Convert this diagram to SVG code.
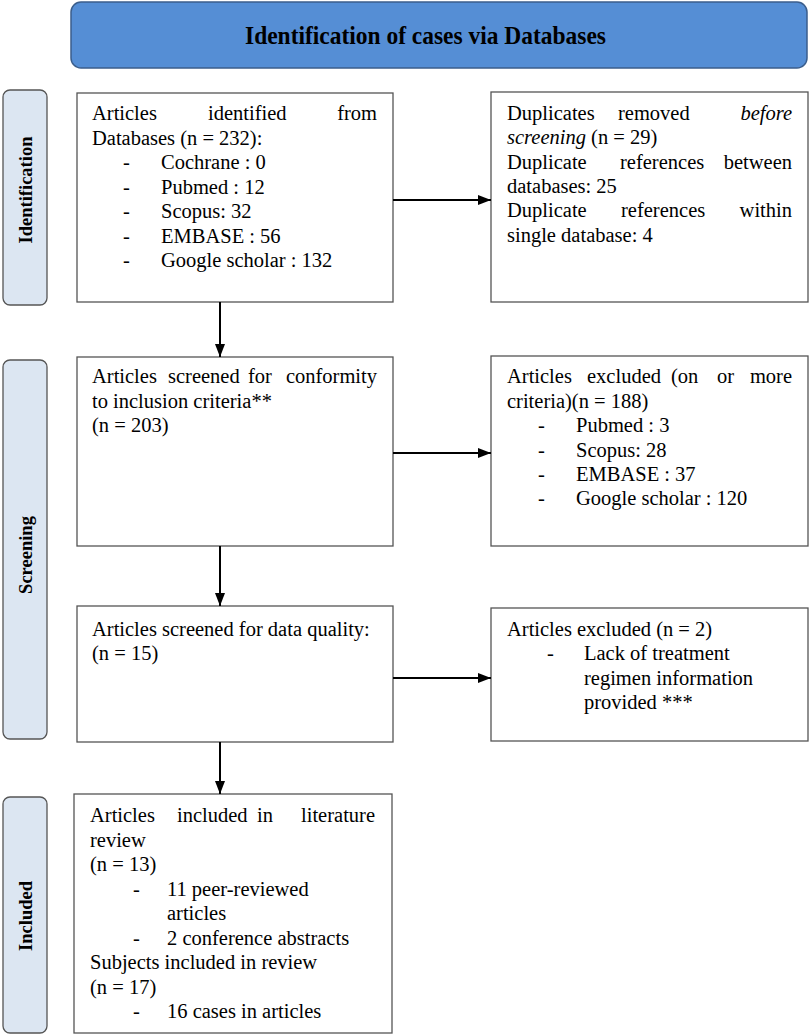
<svg xmlns="http://www.w3.org/2000/svg" width="810" height="1036" viewBox="0 0 810 1036">
<style>
  .t{font-family:"Liberation Serif","Times New Roman",serif;font-size:20.5px;fill:#000}
  .e{text-anchor:end}
  .i{font-style:italic}
  .side{fill:#dce6f2;stroke:#555;stroke-width:1.3}
  .sl{font-family:"Liberation Serif","Times New Roman",serif;font-size:18.5px;font-weight:bold;text-anchor:middle;fill:#000}
  .box{fill:#fff;stroke:#555;stroke-width:1.3}
  .c{stroke:#000;stroke-width:2;fill:none}
</style>
<defs>
  <marker id="ah" markerWidth="13" markerHeight="10" refX="13" refY="5" orient="auto" markerUnits="userSpaceOnUse">
    <path d="M0,0 L13,5 L0,10 Z" fill="#000"/>
  </marker>
</defs>
<rect width="810" height="1036" fill="#fff"/>

<g id="title">
  <rect x="71" y="2" width="736" height="66" rx="10" fill="#558ed5" stroke="#3b5e8c" stroke-width="1.5"/>
  <text x="425.5" y="44" text-anchor="middle" textLength="361" lengthAdjust="spacingAndGlyphs" font-family="Liberation Serif, Times New Roman, serif" font-size="25" font-weight="bold" fill="#000">Identification of cases via Databases</text>
</g>

<g id="phase-identification">
  <rect class="side" x="3" y="90" width="44" height="215" rx="7"/>
  <text class="sl" transform="translate(32,190) rotate(-90)">Identification</text>
</g>
<g id="phase-screening">
  <rect class="side" x="3" y="360" width="44" height="379" rx="7"/>
  <text class="sl" transform="translate(32,555) rotate(-90)">Screening</text>
</g>
<g id="phase-included">
  <rect class="side" x="3" y="797" width="44" height="236" rx="7"/>
  <text class="sl" transform="translate(32,916) rotate(-90)">Included</text>
</g>

<g id="identified">
  <rect class="box" x="77" y="93" width="316" height="209"/>
  <text class="t" x="92" y="120">Articles</text>
  <text class="t" x="208" y="120">identified</text>
  <text class="t e" x="377" y="120">from</text>
  <text class="t" x="92" y="144.5">Databases (n = 232):</text>
  <text class="t" x="123" y="169">-</text><text class="t" x="161" y="169">Cochrane : 0</text>
  <text class="t" x="123" y="193.5">-</text><text class="t" x="161" y="193.5">Pubmed : 12</text>
  <text class="t" x="123" y="218">-</text><text class="t" x="161" y="218">Scopus: 32</text>
  <text class="t" x="123" y="242.5">-</text><text class="t" x="161" y="242.5">EMBASE : 56</text>
  <text class="t" x="123" y="267">-</text><text class="t" x="161" y="267">Google scholar : 132</text>
</g>

<g id="duplicates">
  <rect class="box" x="491" y="92" width="317" height="210"/>
  <text class="t" x="507" y="120">Duplicates</text>
  <text class="t" x="618" y="120">removed</text>
  <text class="t e i" x="792" y="120">before</text>
  <text class="t" x="507" y="144.3"><tspan class="i">screening</tspan> (n = 29)</text>
  <text class="t" x="507" y="168.6">Duplicate</text>
  <text class="t" x="620" y="168.6">references</text>
  <text class="t e" x="792" y="168.6">between</text>
  <text class="t" x="507" y="192.9">databases: 25</text>
  <text class="t" x="507" y="217.2">Duplicate</text>
  <text class="t" x="621" y="217.2">references</text>
  <text class="t e" x="792" y="217.2">within</text>
  <text class="t" x="507" y="241.5">single database: 4</text>
</g>

<g id="screened">
  <rect class="box" x="77" y="357" width="316" height="189"/>
  <text class="t" x="92" y="383">Articles</text>
  <text class="t" x="168" y="383">screened</text>
  <text class="t" x="248" y="383">for</text>
  <text class="t e" x="377" y="383">conformity</text>
  <text class="t" x="92" y="407.5">to inclusion criteria**</text>
  <text class="t" x="92" y="432">(n = 203)</text>
</g>

<g id="excluded1">
  <rect class="box" x="491" y="356" width="317" height="190"/>
  <text class="t" x="507" y="383">Articles</text>
  <text class="t" x="587" y="383">excluded</text>
  <text class="t" x="671" y="383">(on</text>
  <text class="t" x="717" y="383">or</text>
  <text class="t e" x="792" y="383">more</text>
  <text class="t" x="507" y="407.5">criteria)(n = 188)</text>
  <text class="t" x="538" y="432">-</text><text class="t" x="576" y="432">Pubmed : 3</text>
  <text class="t" x="538" y="456.5">-</text><text class="t" x="576" y="456.5">Scopus: 28</text>
  <text class="t" x="538" y="481">-</text><text class="t" x="576" y="481">EMBASE : 37</text>
  <text class="t" x="538" y="505">-</text><text class="t" x="576" y="505">Google scholar : 120</text>
</g>

<g id="quality">
  <rect class="box" x="77" y="606" width="316" height="136"/>
  <text class="t" x="92" y="636">Articles screened for data quality:</text>
  <text class="t" x="92" y="660">(n = 15)</text>
</g>

<g id="excluded2">
  <rect class="box" x="491" y="608" width="317" height="133"/>
  <text class="t" x="507" y="636">Articles excluded (n = 2)</text>
  <text class="t" x="547" y="660">-</text><text class="t" x="584" y="660">Lack of treatment</text>
  <text class="t" x="584" y="684.5">regimen information</text>
  <text class="t" x="584" y="709">provided ***</text>
</g>

<g id="included">
  <rect class="box" x="74" y="794" width="318" height="239"/>
  <text class="t" x="90" y="822">Articles</text>
  <text class="t" x="177" y="822">included</text>
  <text class="t" x="257" y="822">in</text>
  <text class="t e" x="375" y="822">literature</text>
  <text class="t" x="90" y="846.5">review</text>
  <text class="t" x="90" y="871">(n = 13)</text>
  <text class="t" x="133" y="895.5">-</text><text class="t" x="167" y="895.5">11 peer-reviewed</text>
  <text class="t" x="167" y="920">articles</text>
  <text class="t" x="133" y="944.5">-</text><text class="t" x="167" y="944.5">2 conference abstracts</text>
  <text class="t" x="90" y="969">Subjects included in review</text>
  <text class="t" x="90" y="993.5">(n = 17)</text>
  <text class="t" x="133" y="1018">-</text><text class="t" x="167" y="1018">16 cases in articles</text>
</g>

<g id="connectors">
  <line class="c" x1="393" y1="200" x2="491" y2="200" marker-end="url(#ah)"/>
  <line class="c" x1="220" y1="302" x2="220" y2="357" marker-end="url(#ah)"/>
  <line class="c" x1="393" y1="453" x2="491" y2="453" marker-end="url(#ah)"/>
  <line class="c" x1="220" y1="546" x2="220" y2="606" marker-end="url(#ah)"/>
  <line class="c" x1="393" y1="678" x2="491" y2="678" marker-end="url(#ah)"/>
  <line class="c" x1="220" y1="742" x2="220" y2="794" marker-end="url(#ah)"/>
</g>
</svg>
